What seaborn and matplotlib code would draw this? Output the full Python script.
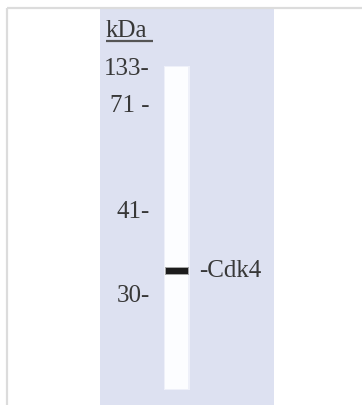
import matplotlib
matplotlib.use("Agg")
import matplotlib.pyplot as plt
import seaborn as sns

marker_labels = ["133-", "71 -", "41-", "30-"]
marker_baselines = [75, 112, 218, 302]
lane_top = 67
lane_bottom = 389
band_label = "-Cdk4"
band_center = 271
band_thickness = 6

# --- style ---
sns.set_theme(style="white")
plt.rcParams['font.family'] = ['Liberation Serif', 'DejaVu Serif']
PANEL = "#dde1f1"
TEXT = "#383838"
BORDER = "#dcdcdc"

fig = plt.figure(figsize=(3.62, 4.05), dpi=100)
ax = fig.add_axes([0, 0, 1, 1])
ax.set_xlim(0, 362)
ax.set_ylim(405, 0)
ax.axis("off")

# frame lines of the thumbnail
ax.plot([6.5, 362], [7.5, 7.5], color=BORDER, lw=1.6, solid_capstyle="butt")
ax.plot([6.5, 6.5], [7.5, 405], color=BORDER, lw=1.6, solid_capstyle="butt")

# blue membrane panel
ax.bar(187, 405 - 9, bottom=9, width=174, color=PANEL, linewidth=0)

# lane (with a faint soft edge)
lane_x = 176.5
ax.bar(lane_x, lane_bottom - lane_top + 2, bottom=lane_top - 1, width=26,
       color="#eef0f9", linewidth=0)
ax.bar(lane_x, lane_bottom - lane_top, bottom=lane_top, width=23,
       color="#fcfdff", linewidth=0)

# band
ax.bar(lane_x, band_thickness + 2, bottom=band_center - band_thickness / 2 - 1,
       width=24, color="#6a6a6a", linewidth=0, alpha=0.6)
ax.bar(lane_x, band_thickness, bottom=band_center - band_thickness / 2,
       width=22, color="#1c1c1c", linewidth=0)

# kDa header with underline
ax.text(106, 37, "kDa", fontsize=18, color=TEXT, ha="left", va="baseline")
ax.plot([106, 153], [40.5, 40.5], color="#555555", lw=1.6, solid_capstyle="butt")

# marker labels
for lab, yb in zip(marker_labels, marker_baselines):
    ax.text(150, yb, lab, fontsize=18, color=TEXT, ha="right", va="baseline")

# band label
ax.text(199, band_center + 6, band_label, fontsize=18, color=TEXT,
        ha="left", va="baseline")

fig.savefig("out.png", dpi=100)
